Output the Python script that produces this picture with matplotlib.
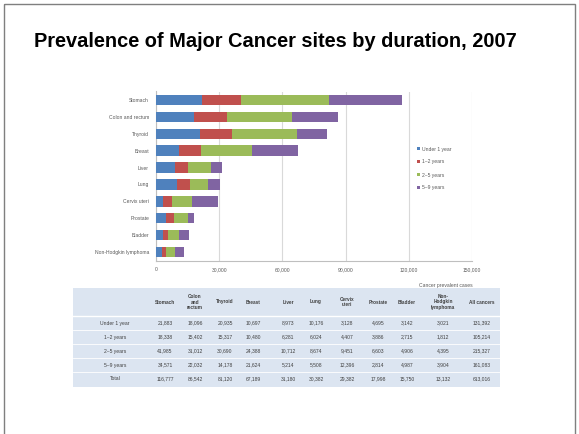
import matplotlib.pyplot as plt
from matplotlib.patches import Rectangle

# data (estimated, image is very blurry)
sites = ["Stomach", "Colon and rectum", "Thyroid", "Breast", "Liver", "Lung",
         "Cervix uteri", "Prostate", "Bladder", "Non-Hodgkin lymphoma"]
durations = ["Under 1 year", "1~2 years", "2~5 years", "5~9 years"]
under_1 = [21883, 18096, 20935, 10697, 8973, 10176, 3128, 4695, 3142, 3021]
years_1_2 = [18338, 15402, 15317, 10480, 6281, 6024, 4407, 3886, 2715, 1812]
years_2_5 = [41985, 31012, 30690, 24388, 10712, 8674, 9451, 6603, 4906, 4395]
years_5_9 = [34571, 22032, 14178, 21624, 5214, 5508, 12396, 2814, 4987, 3904]
all_cancers = [131392, 105214, 215327, 161083]
header_labels = ["Stomach", "Colon\nand\nrectum", "Thyroid", "Breast", "Liver", "Lung",
                 "Cervix\nuteri", "Prostate", "Bladder", "Non-\nHodgkin\nlymphoma", "All cancers"]
x_ticks = [0, 30000, 60000, 90000, 120000, 150000]

colors = ["#4F81BD", "#C0504D", "#9BBB59", "#8064A2"]
W, H = 579, 434
plt.rcParams['font.family'] = ['Liberation Sans', 'DejaVu Sans']

fig = plt.figure(figsize=(W / 100, H / 100), dpi=100)
fig.patch.set_facecolor("white")


def px_box(x0, y0, x1, y1):
    return [x0 / W, 1 - y1 / H, (x1 - x0) / W, (y1 - y0) / H]


# slide frame
frame = fig.add_axes([0, 0, 1, 1])
frame.set_xlim(0, W)
frame.set_ylim(H, 0)
frame.axis("off")
frame.add_patch(Rectangle((4, 4), 571, 440, fill=False, edgecolor="#7F7F7F", lw=1.0))

fig.text(34 / W, 1 - 47 / H, "Prevalence of Major Cancer sites by duration, 2007",
         fontweight="bold", fontsize=14.4, color="black", va="baseline", ha="left")

# stacked bar chart
ax = fig.add_axes(px_box(156, 91.5, 472, 260.5))
series = [under_1, years_1_2, years_2_5, years_5_9]
left = [0] * len(sites)
ypos = list(range(len(sites)))
for vals, col, lab in zip(series, colors, durations):
    ax.barh(ypos, vals, left=left, height=0.62, color=col, label=lab, zorder=3)
    left = [a + b for a, b in zip(left, vals)]
ax.set_xlim(0, 150000)
ax.set_ylim(len(sites) - 0.5, -0.5)
ax.set_yticks(ypos)
ax.set_yticklabels(sites, fontsize=3.6, color="#595959")
ax.set_xticks(x_ticks)
ax.set_xticklabels([f"{t:,}" for t in x_ticks], fontsize=3.6, color="#595959")
ax.tick_params(axis="both", length=0, pad=5)
ax.grid(axis="x", color="#D9D9D9", lw=0.8, zorder=0)
for s in ["top", "right"]:
    ax.spines[s].set_visible(False)
for s in ["left", "bottom"]:
    ax.spines[s].set_color("#BFBFBF")
    ax.spines[s].set_linewidth(0.8)
fig.text(473 / W, 1 - 285 / H, "Cancer prevalent cases", fontsize=3.6,
         color="#595959", ha="right", va="center")
leg = ax.legend(loc="upper left", bbox_to_anchor=(412 / W, 1 - 142 / H),
                bbox_transform=fig.transFigure, frameon=False, fontsize=3.6,
                handlelength=0.6, handleheight=0.6, labelspacing=1.6, handletextpad=0.5)
for t in leg.get_texts():
    t.set_color("#595959")

# table under the chart
tx0, tx1, ty0, ty1 = 73, 500, 288, 387
frame.add_patch(Rectangle((tx0, ty0), tx1 - tx0, ty1 - ty0, facecolor="#DCE5F1",
                          edgecolor="none"))
header_bottom = 316
row_ys = [323, 337, 351, 365, 379]
col_xs = [165, 195, 225, 253, 288, 316, 347, 378, 407, 443, 482]
label_x = 115
frame.plot([tx0, tx1], [header_bottom, header_bottom], color="white", lw=1.0)
for y in row_ys[:-1]:
    frame.plot([tx0, tx1], [y + 7, y + 7], color="white", lw=0.6)
for cx, hl in zip(col_xs, header_labels):
    frame.text(cx, 302, hl, fontsize=3.4, fontweight="bold", color="#404040",
               ha="center", va="center", linespacing=1.2)

row_values = []
for i in range(len(durations)):
    row_values.append(list(series[i]) + [all_cancers[i]])
totals = [sum(col) for col in zip(*row_values)]
row_names = durations + ["Total"]
for rname, vals, y in zip(row_names, row_values + [totals], row_ys):
    frame.text(label_x, y, rname, fontsize=3.6, color="#404040", ha="center", va="center")
    for cx, v in zip(col_xs, vals):
        frame.text(cx, y, f"{v:,}", fontsize=3.6, color="#404040", ha="center", va="center")

fig.savefig("out.png", dpi=100)
